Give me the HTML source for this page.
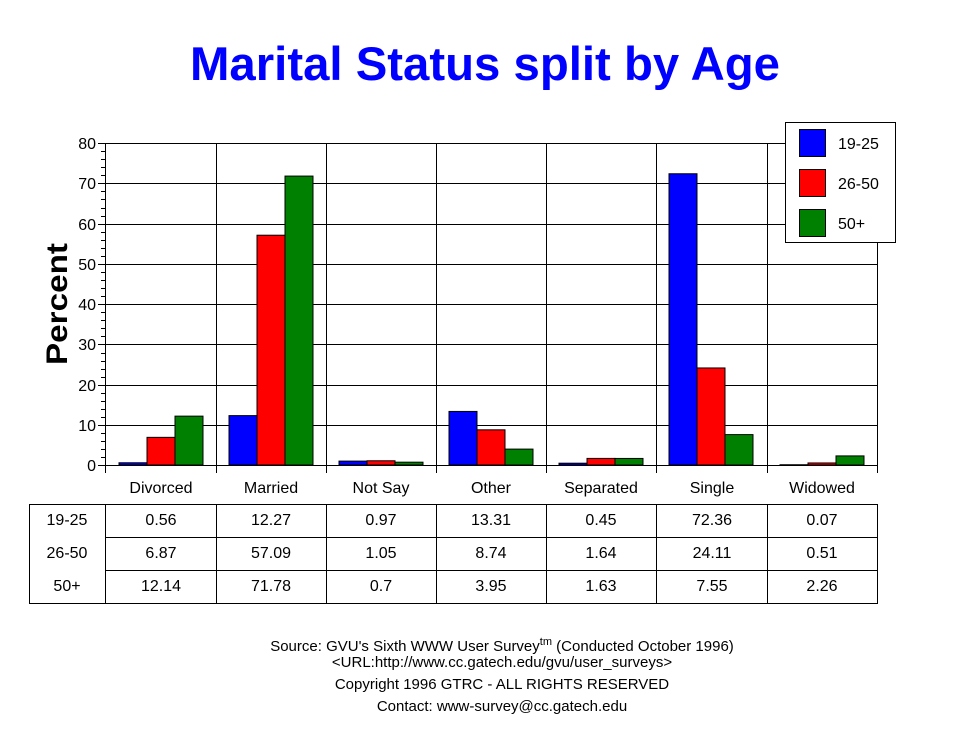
<!DOCTYPE html>
<html><head><meta charset="utf-8"><style>
html,body{margin:0;padding:0;background:#fff;}
svg{display:block;font-family:"Liberation Sans",Arial,sans-serif;}
</style></head><body>
<svg width="970" height="736" viewBox="0 0 970 736" xmlns="http://www.w3.org/2000/svg">
<text x="485" y="80" text-anchor="middle" font-size="47" font-weight="bold" fill="#0000ff" textLength="590" lengthAdjust="spacingAndGlyphs">Marital Status split by Age</text>
<text transform="translate(67,304) rotate(-90)" text-anchor="middle" font-size="30" font-weight="bold" textLength="122" lengthAdjust="spacingAndGlyphs">Percent</text>
<g stroke="#000" stroke-width="1">
<line x1="98" y1="143.5" x2="877" y2="143.5"/>
<line x1="98" y1="183.5" x2="877" y2="183.5"/>
<line x1="98" y1="224.5" x2="877" y2="224.5"/>
<line x1="98" y1="264.5" x2="877" y2="264.5"/>
<line x1="98" y1="304.5" x2="877" y2="304.5"/>
<line x1="98" y1="344.5" x2="877" y2="344.5"/>
<line x1="98" y1="385.5" x2="877" y2="385.5"/>
<line x1="98" y1="425.5" x2="877" y2="425.5"/>
<line x1="98" y1="465.5" x2="877" y2="465.5"/>
<line x1="105.5" y1="143" x2="105.5" y2="473"/>
<line x1="216.5" y1="143" x2="216.5" y2="473"/>
<line x1="326.5" y1="143" x2="326.5" y2="473"/>
<line x1="436.5" y1="143" x2="436.5" y2="473"/>
<line x1="546.5" y1="143" x2="546.5" y2="473"/>
<line x1="656.5" y1="143" x2="656.5" y2="473"/>
<line x1="767.5" y1="143" x2="767.5" y2="473"/>
<line x1="877.5" y1="143" x2="877.5" y2="473"/>
</g>
<g stroke="#000" stroke-width="1">
<path d="M101 151.5h5M101 159.5h5M101 167.5h5M101 175.5h5M101 191.5h5M101 199.5h5M101 208.5h5M101 216.5h5M101 232.5h5M101 240.5h5M101 248.5h5M101 256.5h5M101 272.5h5M101 280.5h5M101 288.5h5M101 296.5h5M101 312.5h5M101 320.5h5M101 328.5h5M101 336.5h5M101 353.5h5M101 361.5h5M101 369.5h5M101 377.5h5M101 393.5h5M101 401.5h5M101 409.5h5M101 417.5h5M101 433.5h5M101 441.5h5M101 449.5h5M101 457.5h5"/>
</g>
<g font-size="16" text-anchor="end">
<text x="96" y="149">80</text><text x="96" y="189">70</text><text x="96" y="230">60</text><text x="96" y="270">50</text>
<text x="96" y="310">40</text><text x="96" y="350">30</text><text x="96" y="391">20</text><text x="96" y="431">10</text><text x="96" y="471">0</text>
</g>
<g stroke="#000" stroke-width="1">
<rect x="119" y="462.75" width="28" height="2.25" fill="#0000ff"/>
<rect x="147" y="437.35" width="28" height="27.65" fill="#ff0000"/>
<rect x="175" y="416.14" width="28" height="48.86" fill="#008000"/>
<rect x="229" y="415.61" width="28" height="49.39" fill="#0000ff"/>
<rect x="257" y="235.21" width="28" height="229.79" fill="#ff0000"/>
<rect x="285" y="176.08" width="28" height="288.92" fill="#008000"/>
<rect x="339" y="461.1" width="28" height="3.9" fill="#0000ff"/>
<rect x="367" y="460.77" width="28" height="4.23" fill="#ff0000"/>
<rect x="395" y="462.18" width="28" height="2.82" fill="#008000"/>
<rect x="449" y="411.43" width="28" height="53.57" fill="#0000ff"/>
<rect x="477" y="429.82" width="28" height="35.18" fill="#ff0000"/>
<rect x="505" y="449.1" width="28" height="15.9" fill="#008000"/>
<rect x="559" y="463.19" width="28" height="1.81" fill="#0000ff"/>
<rect x="587" y="458.4" width="28" height="6.6" fill="#ff0000"/>
<rect x="615" y="458.44" width="28" height="6.56" fill="#008000"/>
<rect x="669" y="173.75" width="28" height="291.25" fill="#0000ff"/>
<rect x="697" y="367.96" width="28" height="97.04" fill="#ff0000"/>
<rect x="725" y="434.61" width="28" height="30.39" fill="#008000"/>
<rect x="780" y="464.72" width="28" height="0.28" fill="#0000ff"/>
<rect x="808" y="462.95" width="28" height="2.05" fill="#ff0000"/>
<rect x="836" y="455.9" width="28" height="9.1" fill="#008000"/>
</g>
<rect x="785.5" y="122.5" width="110" height="120" fill="#fff" stroke="#000"/>
<rect x="799.5" y="129.5" width="26" height="27" fill="#0000ff" stroke="#000"/>
<rect x="799.5" y="169.5" width="26" height="27" fill="#ff0000" stroke="#000"/>
<rect x="799.5" y="209.5" width="26" height="27" fill="#008000" stroke="#000"/>
<g font-size="16"><text x="838" y="149">19-25</text><text x="838" y="189">26-50</text><text x="838" y="229">50+</text></g>
<g font-size="16" text-anchor="middle">
<text x="161" y="493">Divorced</text><text x="271" y="493">Married</text><text x="381" y="493">Not Say</text>
<text x="491" y="493">Other</text><text x="601" y="493">Separated</text><text x="712" y="493">Single</text><text x="822" y="493">Widowed</text>
</g>
<g stroke="#000" stroke-width="1" fill="none">
<rect x="29.5" y="504.5" width="848" height="99"/>
<path d="M105.5 504v100M216.5 504v100M326.5 504v100M436.5 504v100M546.5 504v100M656.5 504v100M767.5 504v100M105 537.5h772M105 570.5h772"/>
</g>
<g font-size="16" text-anchor="middle">
<text x="67" y="525">19-25</text><text x="67" y="558">26-50</text><text x="67" y="591">50+</text>
<text x="161" y="525">0.56</text><text x="271" y="525">12.27</text><text x="381" y="525">0.97</text><text x="491" y="525">13.31</text><text x="601" y="525">0.45</text><text x="712" y="525">72.36</text><text x="822" y="525">0.07</text>
<text x="161" y="558">6.87</text><text x="271" y="558">57.09</text><text x="381" y="558">1.05</text><text x="491" y="558">8.74</text><text x="601" y="558">1.64</text><text x="712" y="558">24.11</text><text x="822" y="558">0.51</text>
<text x="161" y="591">12.14</text><text x="271" y="591">71.78</text><text x="381" y="591">0.7</text><text x="491" y="591">3.95</text><text x="601" y="591">1.63</text><text x="712" y="591">7.55</text><text x="822" y="591">2.26</text>
</g>
<g font-size="15" text-anchor="middle">
<text x="502" y="651">Source: GVU's Sixth WWW User Survey<tspan font-size="11" dy="-6">tm</tspan><tspan dy="6">  (Conducted October 1996)</tspan></text>
<text x="502" y="667">&lt;URL:http://www.cc.gatech.edu/gvu/user_surveys&gt;</text>
<text x="502" y="689">Copyright 1996 GTRC -  ALL RIGHTS RESERVED</text>
<text x="502" y="711">Contact: www-survey@cc.gatech.edu</text>
</g>
</svg>
</body></html>
